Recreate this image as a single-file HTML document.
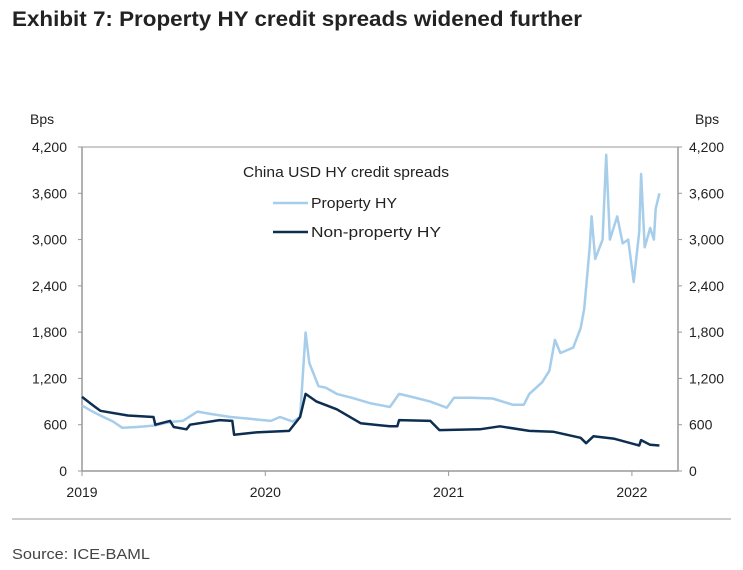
<!DOCTYPE html>
<html><head><meta charset="utf-8"><style>
body{margin:0;background:#fff;width:743px;height:570px;overflow:hidden;font-family:"Liberation Sans",Arial,sans-serif}
svg{display:block}
</style></head><body>
<svg id="c" width="743" height="570">
<text x="12" y="26" font-size="21" font-weight="bold" fill="#222" textLength="570" lengthAdjust="spacingAndGlyphs">Exhibit 7: Property HY credit spreads widened further</text>
<text x="30" y="124" font-size="14" fill="#222">Bps</text>
<text x="695" y="124" font-size="14" fill="#222">Bps</text>
<text x="243" y="177" font-size="14.5" fill="#222" textLength="206" lengthAdjust="spacingAndGlyphs">China USD HY credit spreads</text>
<line x1="273" y1="203" x2="308" y2="203" stroke="#a6cdea" stroke-width="2.5"/>
<text x="311" y="208" font-size="14.5" fill="#222" textLength="86" lengthAdjust="spacingAndGlyphs">Property HY</text>
<line x1="273" y1="232" x2="308" y2="232" stroke="#0d2e50" stroke-width="2.5"/>
<text x="311" y="237" font-size="14.5" fill="#222" textLength="130" lengthAdjust="spacingAndGlyphs">Non-property HY</text>
<line x1="12" y1="519" x2="731" y2="519" stroke="#999" stroke-width="1"/>
<text x="12" y="559" font-size="15" fill="#444" textLength="138" lengthAdjust="spacingAndGlyphs">Source: ICE-BAML</text>
<g id="plot"></g>
</svg>
<script>
const yTicks=[0,600,1200,1800,2400,3000,3600,4200];
const yTickLabels=["0","600","1,200","1,800","2,400","3,000","3,600","4,200"];
const xTicks=[2019,2020,2021,2022];
const xTickLabels=["2019","2020","2021","2022"];
const propYears=[2019.00,2019.05,2019.10,2019.17,2019.22,2019.30,2019.40,2019.45,2019.50,2019.55,2019.63,2019.70,2019.81,2019.90,2020.03,2020.08,2020.15,2020.19,2020.22,2020.24,2020.29,2020.33,2020.39,2020.47,2020.57,2020.68,2020.73,2020.80,2020.90,2020.99,2021.03,2021.12,2021.24,2021.35,2021.41,2021.44,2021.51,2021.55,2021.58,2021.61,2021.68,2021.72,2021.74,2021.77,2021.78,2021.80,2021.84,2021.86,2021.88,2021.92,2021.95,2021.98,2022.01,2022.04,2022.05,2022.07,2022.10,2022.12,2022.13,2022.15];
const propValues=[850,780,720,640,560,570,590,620,640,650,770,740,700,680,650,700,640,700,1795,1400,1100,1080,1000,950,880,830,1000,960,900,820,950,950,940,860,860,1000,1150,1300,1700,1530,1600,1850,2100,2900,3300,2750,3000,4100,3000,3300,2950,3000,2450,3100,3850,2900,3150,3000,3400,3600];
const nonYears=[2019.00,2019.06,2019.10,2019.25,2019.39,2019.40,2019.48,2019.50,2019.57,2019.59,2019.75,2019.82,2019.83,2019.95,2020.13,2020.19,2020.22,2020.28,2020.39,2020.52,2020.68,2020.72,2020.73,2020.90,2020.95,2021.17,2021.28,2021.44,2021.57,2021.72,2021.75,2021.79,2021.90,2022.04,2022.05,2022.10,2022.15];
const nonValues=[960,850,780,720,700,600,650,570,540,600,660,650,470,500,520,700,1000,900,800,620,580,580,660,650,530,540,580,520,510,430,360,450,420,330,400,340,330];
const L=82,R=678,T=147,B=471;
const xs=y=>L+(y-2019)*183.3;
const ys=v=>B-(v/4200)*(B-T);
const NS="http://www.w3.org/2000/svg";
const g=document.getElementById('plot');
function mk(t,a){const e=document.createElementNS(NS,t);for(const k in a)e.setAttribute(k,a[k]);g.appendChild(e);return e;}
let e=mk('line',{x1:L,y1:T,x2:R,y2:T,stroke:'#bbb','stroke-width':1.5});


e=mk('line',{x1:R,y1:T,x2:R,y2:B,stroke:'#999','stroke-width':1.5});


e=mk('line',{x1:L,y1:T,x2:L,y2:B,stroke:'#999','stroke-width':1.5});


e=mk('line',{x1:L,y1:B,x2:R,y2:B,stroke:'#999','stroke-width':1.5});


yTicks.forEach((v,i)=>{
  const y=ys(v);
  let t=mk('line',{x1:L-4,y1:y,x2:L,y2:y,stroke:'#999'});
  
  
  t=mk('line',{x1:R,y1:y,x2:R+4,y2:y,stroke:'#999'});
  
  
  let l=mk('text',{x:67,y:y+5,'font-size':14,'text-anchor':'end',fill:'#222'});l.textContent=yTickLabels[i];
  
  
  l=mk('text',{x:689,y:y+5,'font-size':14,fill:'#222'});l.textContent=yTickLabels[i];
  
  
});
xTicks.forEach((v,i)=>{
  const x=xs(v);
  let t=mk('line',{x1:x,y1:B,x2:x,y2:B+5,stroke:'#999'});
  
  
  let l=mk('text',{x:x,y:497,'font-size':14,'text-anchor':'middle',fill:'#222'});l.textContent=xTickLabels[i];
  
  
});
function pts(xa,va){return xa.map((x,i)=>xs(x).toFixed(1)+','+ys(va[i]).toFixed(1)).join(' ');}
e=mk('polyline',{points:pts(propYears,propValues),fill:'none',stroke:'#a6cdea','stroke-width':2.5,'stroke-linejoin':'round'});


e=mk('polyline',{points:pts(nonYears,nonValues),fill:'none',stroke:'#0d2e50','stroke-width':2.5,'stroke-linejoin':'round'});


</script>
</body></html>
